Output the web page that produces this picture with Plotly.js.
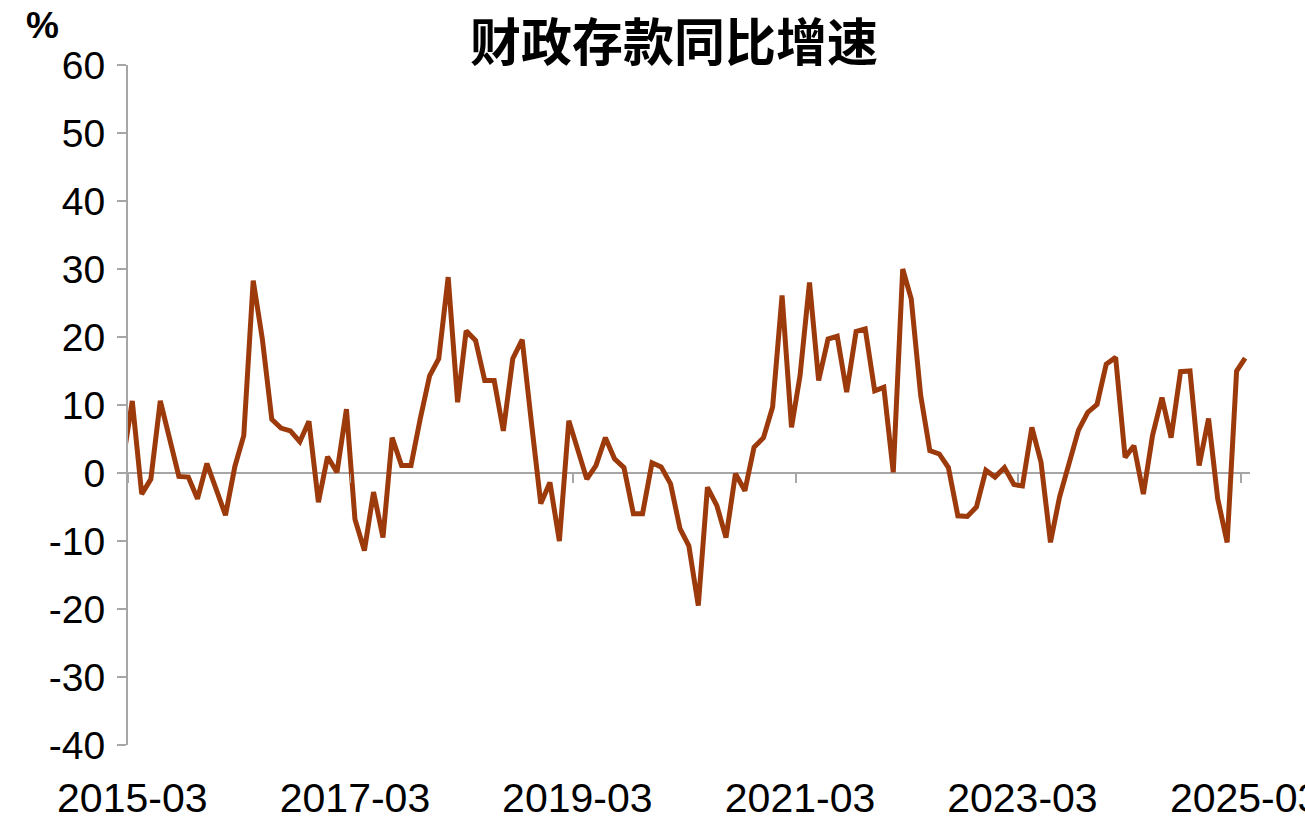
<!DOCTYPE html>
<html>
<head>
<meta charset="utf-8">
<script src="https://cdn.plot.ly/plotly-3.0.1.min.js"></script>
<style>html,body{margin:0;padding:0;background:#fff;}#chart{width:1305px;height:828px;}</style>
</head>
<body>
<div id="chart"></div>
<script>
// Monthly series, 2015-02 .. 2025-03 (year-on-year growth of fiscal deposits, %)
const months = [
"2015-02","2015-03","2015-04","2015-05","2015-06","2015-07","2015-08","2015-09","2015-10","2015-11","2015-12",
"2016-01","2016-02","2016-03","2016-04","2016-05","2016-06","2016-07","2016-08","2016-09","2016-10","2016-11","2016-12",
"2017-01","2017-02","2017-03","2017-04","2017-05","2017-06","2017-07","2017-08","2017-09","2017-10","2017-11","2017-12",
"2018-01","2018-02","2018-03","2018-04","2018-05","2018-06","2018-07","2018-08","2018-09","2018-10","2018-11","2018-12",
"2019-01","2019-02","2019-03","2019-04","2019-05","2019-06","2019-07","2019-08","2019-09","2019-10","2019-11","2019-12",
"2020-01","2020-02","2020-03","2020-04","2020-05","2020-06","2020-07","2020-08","2020-09","2020-10","2020-11","2020-12",
"2021-01","2021-02","2021-03","2021-04","2021-05","2021-06","2021-07","2021-08","2021-09","2021-10","2021-11","2021-12",
"2022-01","2022-02","2022-03","2022-04","2022-05","2022-06","2022-07","2022-08","2022-09","2022-10","2022-11","2022-12",
"2023-01","2023-02","2023-03","2023-04","2023-05","2023-06","2023-07","2023-08","2023-09","2023-10","2023-11","2023-12",
"2024-01","2024-02","2024-03","2024-04","2024-05","2024-06","2024-07","2024-08","2024-09","2024-10","2024-11","2024-12",
"2025-01","2025-02","2025-03"
];
const growth = [
2.5,10.6,-3.1,-0.9,10.6,5.0,-0.5,-0.6,-3.8,1.4,-2.6,
-6.2,1.0,5.5,28.3,19.7,7.9,6.6,6.2,4.6,7.6,-4.3,2.4,
0.1,9.4,-6.8,-11.4,-2.8,-9.5,5.2,1.1,1.1,7.9,14.3,16.8,
28.8,10.4,20.9,19.5,13.6,13.6,6.2,16.8,19.6,7.5,-4.5,-1.4,
-10.0,7.7,3.3,-0.9,1.1,5.2,2.1,0.8,-6.0,-6.0,1.5,0.9,
-1.6,-8.2,-10.7,-19.5,-2.1,-4.8,-9.5,-0.1,-2.6,3.8,5.2,9.7,
26.1,6.7,14.3,28.0,13.6,19.7,20.1,11.9,20.8,21.2,12.1,12.6,
0.1,30.0,25.6,11.4,3.3,2.8,0.8,-6.3,-6.4,-5.0,0.4,-0.6,
0.8,-1.7,-1.9,6.7,1.6,-10.2,-3.5,1.5,6.3,8.9,10.1,16.0,
17.0,2.3,4.0,-3.1,5.5,11.1,5.2,14.9,15.0,1.1,8.0,-3.8,
-10.2,15.0,16.9
];
const tickLabels = ["2015-03","2017-03","2019-03","2021-03","2023-03","2025-03"];
const yTicks = [-40,-30,-20,-10,0,10,20,30,40,50,60];
const yTickText = ["-40","-30","-20","-10","0","10","20","30","40","50","60"];
const titleText = "财政存款同比增速";
const unitText = "%";

const xDates = months.map(m => m + "-15");
const gray = "#a6a6a6";
const numFont = "'Liberation Sans', Arial, sans-serif";

const trace = {
  x: xDates, y: growth, type: "scatter", mode: "lines",
  line: {color: "#9C3A0C", width: 5}, hoverinfo: "x+y", showlegend: false
};

const layout = {
  width: 1305, height: 828,
  margin: {l: 127.5, r: 55, t: 65, b: 83, pad: 0},
  paper_bgcolor: "#ffffff", plot_bgcolor: "#ffffff",
  title: {text: titleText, x: 0.5165, xref: "container", xanchor: "center", y: 0.948, yref: "container", yanchor: "middle",
    font: {family: "'Noto Sans CJK SC', sans-serif", size: 51, color: "#000", weight: "bold"}},
  xaxis: {
    type: "date", range: ["2015-03-01", "2025-03-31"],
    showgrid: false, zeroline: false, showline: false,
    tickmode: "array", tickvals: tickLabels.map(t => t + "-15"), ticktext: tickLabels,
    ticks: "", ticklabelstandoff: 25, ticklabeloverflow: "allow",
    tickfont: {family: numFont, size: 41, color: "#000"}
  },
  xaxis2: {
    type: "date", overlaying: "x", matches: "x", anchor: "free", position: 0.4, side: "bottom",
    showgrid: false, zeroline: false, showline: false,
    tickmode: "array", tickvals: tickLabels.map(t => t + "-01"), showticklabels: false,
    ticks: "outside", ticklen: 9, tickwidth: 1.5, tickcolor: gray
  },
  yaxis: {
    range: [-40, 60], tickmode: "array", tickvals: yTicks, ticktext: yTickText,
    showgrid: false, zeroline: true, zerolinecolor: gray, zerolinewidth: 2,
    showline: true, linecolor: gray, linewidth: 2,
    ticks: "outside", ticklen: 9, tickwidth: 1.5, tickcolor: gray,
    ticklabelstandoff: 4,
    tickfont: {family: numFont, size: 39, color: "#000"}
  },
  annotations: [{
    text: unitText, xref: "paper", yref: "paper", x: -0.076, y: 1.058, xanchor: "center", yanchor: "middle",
    showarrow: false, font: {family: "'Liberation Sans', Arial, sans-serif", size: 37, color: "#000", weight: "bold"}
  }]
};

const trace2 = {x: [xDates[0]], y: [null], xaxis: "x2", type: "scatter", mode: "lines", showlegend: false, hoverinfo: "skip"};

Plotly.newPlot("chart", [trace, trace2], layout, {displayModeBar: false, staticPlot: true});
</script>
</body>
</html>
